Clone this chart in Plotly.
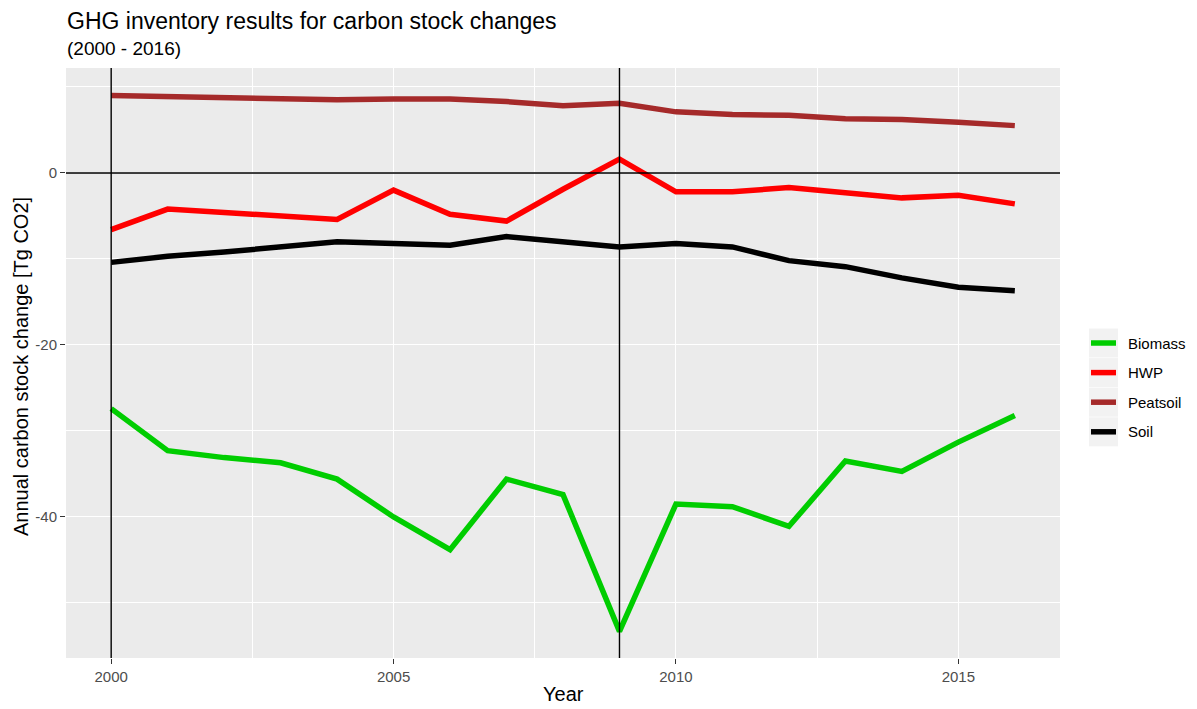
import plotly.graph_objects as go

# Annual carbon stock changes by pool, Tg CO2
years = list(range(2000, 2017))
biomass = [-27.4, -32.3, -33.1, -33.7, -35.6, -40.0, -43.8, -35.6, -37.4, -53.3,
           -38.5, -38.8, -41.1, -33.5, -34.7, -31.3, -28.2]
hwp = [-6.6, -4.2, -4.6, -5.0, -5.4, -2.0, -4.8, -5.6, -1.9, 1.6,
       -2.2, -2.2, -1.7, -2.3, -2.9, -2.6, -3.6]
peatsoil = [9.0, 8.9, 8.7, 8.6, 8.5, 8.6, 8.6, 8.3, 7.8, 8.1,
            7.1, 6.8, 6.7, 6.3, 6.2, 5.9, 5.5]
soil = [-10.4, -9.7, -9.2, -8.6, -8.0, -8.2, -8.4, -7.4, -8.0, -8.6,
        -8.2, -8.6, -10.2, -10.9, -12.2, -13.3, -13.7]

series_names = ["Biomass", "HWP", "Peatsoil", "Soil"]
series_values = [biomass, hwp, peatsoil, soil]
series_colors = ["#00CD00", "#FF0000", "#A52A2A", "#000000"]

x_tick_vals = [2000, 2005, 2010, 2015]
y_tick_vals = [-40, -20, 0]
y_tick_text = ["-40", "-20", "0"]

ref_years = [2000, 2009]
ref_level = 0

FONT = "Liberation Sans, Arial, sans-serif"

fig = go.Figure()
for name, vals, col in zip(series_names, series_values, series_colors):
    fig.add_trace(go.Scatter(x=years, y=vals, mode="lines", name=name,
                             line=dict(color=col, width=5.5),
                             showlegend=False))

# plot-area geometry in pixels, used to place the hand-built legend
W, H = 1197, 709
ML, MR, MT, MB = 66, 137, 68, 51
PW, PH = W - ML - MR, H - MT - MB


def px_x(p):
    return (p - ML) / PW


def px_y(p):
    return (H - MB - p) / PH


shapes = []
for yr in ref_years:
    shapes.append(dict(type="line", xref="x", yref="paper", x0=yr, x1=yr, y0=0, y1=1,
                       line=dict(color="black", width=1.4), layer="above"))
shapes.append(dict(type="line", xref="paper", yref="y", x0=0, x1=1,
                   y0=ref_level, y1=ref_level,
                   line=dict(color="black", width=1.4), layer="above"))

annotations = []
legend_top = 343
legend_step = 29.6
for i, (name, col) in enumerate(zip(series_names, series_colors)):
    cy = legend_top + i * legend_step
    shapes.append(dict(type="rect", xref="paper", yref="paper",
                       x0=px_x(1089), x1=px_x(1118),
                       y0=px_y(cy + 14.5), y1=px_y(cy - 14.5),
                       fillcolor="#F2F2F2", line=dict(width=0), layer="below"))
    shapes.append(dict(type="line", xref="paper", yref="paper",
                       x0=px_x(1091), x1=px_x(1116), y0=px_y(cy), y1=px_y(cy),
                       line=dict(color=col, width=5.5)))
    annotations.append(dict(text=name, xref="paper", yref="paper",
                            x=px_x(1126), y=px_y(cy), xanchor="left", yanchor="middle",
                            showarrow=False, font=dict(size=15, color="black", family=FONT)))

annotations += [
    dict(text="GHG inventory results for carbon stock changes", xref="paper", yref="paper",
         x=px_x(65), y=px_y(21), xanchor="left", yanchor="middle", showarrow=False,
         font=dict(size=23, color="black", family=FONT)),
    dict(text="(2000 - 2016)", xref="paper", yref="paper",
         x=px_x(65), y=px_y(49), xanchor="left", yanchor="middle", showarrow=False,
         font=dict(size=19, color="black", family=FONT)),
    dict(text="Year", xref="paper", yref="paper",
         x=px_x(563), y=px_y(694), xanchor="center", yanchor="middle", showarrow=False,
         font=dict(size=20, color="black", family=FONT)),
    dict(text="Annual carbon stock change [Tg CO2]", xref="paper", yref="paper",
         x=px_x(21), y=px_y(367), xanchor="center", yanchor="middle", showarrow=False,
         textangle=-90, font=dict(size=20, color="black", family=FONT)),
]

fig.update_layout(
    width=W, height=H,
    margin=dict(l=ML, r=MR, t=MT, b=MB, pad=0),
    paper_bgcolor="white",
    plot_bgcolor="#EBEBEB",
    shapes=shapes,
    annotations=annotations,
    font=dict(family=FONT),
)

fig.update_xaxes(
    range=[1999.2, 2016.8], tickvals=x_tick_vals,
    showgrid=True, gridcolor="white", gridwidth=1.4,
    minor=dict(tick0=2000, dtick=2.5, showgrid=True, gridcolor="white", gridwidth=0.7),
    ticks="outside", ticklen=5, tickwidth=1.2, tickcolor="#333333",
    tickfont=dict(size=15, color="#4D4D4D", family=FONT),
    zeroline=False, showline=False,
)
fig.update_yaxes(
    range=[-56.4, 12.2], tickvals=y_tick_vals, ticktext=y_tick_text,
    showgrid=True, gridcolor="white", gridwidth=1.4,
    minor=dict(tick0=0, dtick=10, showgrid=True, gridcolor="white", gridwidth=0.7),
    ticks="outside", ticklen=5, tickwidth=1.2, tickcolor="#333333",
    tickfont=dict(size=15, color="#4D4D4D", family=FONT),
    zeroline=False, showline=False,
)

fig.write_html("out.html")
